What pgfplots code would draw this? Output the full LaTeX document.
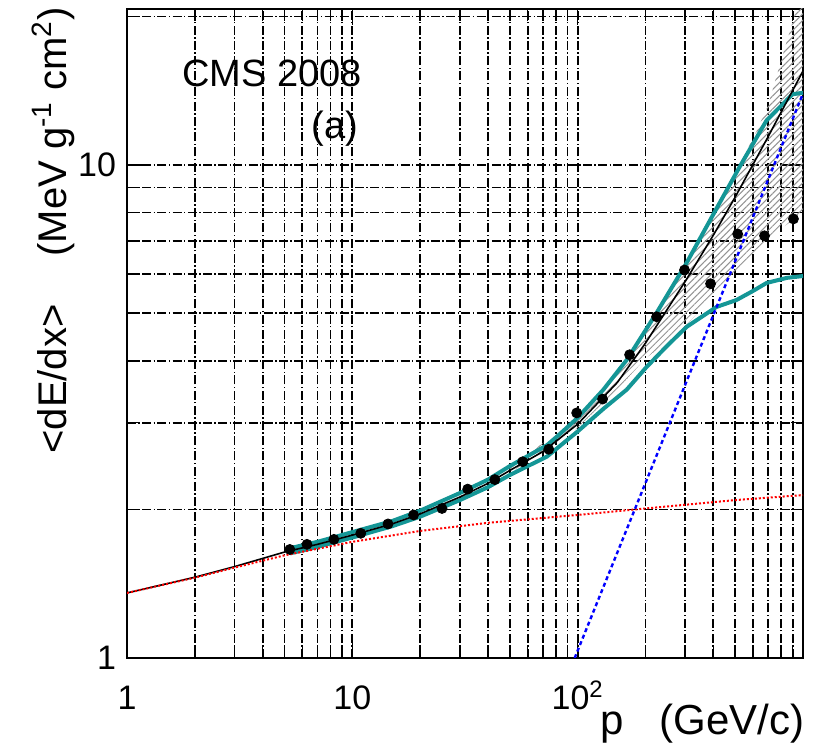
\documentclass[border=0pt]{standalone}
\usepackage{fontspec}
\setmainfont{Liberation Sans}
\usepackage{pgfplots}
\pgfplotsset{compat=1.18}
\usetikzlibrary{patterns.meta}
\definecolor{tealc}{RGB}{20,150,150}
\begin{document}
\begin{tikzpicture}
\begin{axis}[name=ax, xmode=log, ymode=log, scale only axis,
  width=338pt, height=324.5pt,
  xmin=1, xmax=1000, ymin=1, ymax=20.7,
  xtick={1,10,100,1000}, xticklabels={1,10,10\textsuperscript{2},},
  ytick={1,10}, yticklabels={1,10},
  minor xtick={2,3,4,5,6,7,8,9,20,30,40,50,60,70,80,90,200,300,400,500,600,700,800,900},
  minor ytick={2,3,4,5,6,7,8,9,20},
  grid=both,
  major grid style={black, line width=0.85pt, dash pattern=on 4.5pt off 1.2pt on 0.7pt off 1.2pt},
  minor grid style={black, line width=0.85pt, dash pattern=on 4.5pt off 1.2pt on 0.7pt off 1.2pt},
  axis line style={line width=1.2pt},
  tick align=inside, major tick length=8pt, minor tick length=6pt,
  tick style={black, line width=0.8pt},
  xticklabel style={font=\fontsize{17}{20}\selectfont, anchor=base, yshift=-26pt},
  yticklabel style={font=\fontsize{17}{20}\selectfont, xshift=-2pt},
  /pgf/number format/assume math mode=true,
]
% hatched error band
\addplot[draw=none, pattern={Lines[angle=45,distance=2.3pt,line width=0.5pt]}, pattern color=gray!85] coordinates {
 (50,2.45) (100,3.05) (150,3.82) (200,4.65) (300,6.25) (400,7.95) (523,10.0) (622,11.7) (700,13.2) (800,16.3) (900,19.5) (1000,23)
 (1000,8.0) (787,7.38) (561,6.33) (413,5.5) (300,4.7) (250,4.38) (200,4.05) (150,3.5) (100,2.93) (50,2.37)
} -- cycle;
% teal upper
\addplot[tealc, line width=2pt] coordinates {
 (5.3,1.67) (7,1.72) (10,1.80) (15,1.895) (20,1.99) (30,2.16) (40,2.30) (50,2.45) (73,2.70) (83,2.84) (100,3.07) (130,3.5) (165,4.02) (224,5.01) (304,6.32) (413,8.15) (523,9.9) (689,12.3) (898,13.9) (1000,14.0)
};
% teal lower
\addplot[tealc, line width=2pt] coordinates {
 (5.3,1.63) (7,1.68) (10,1.755) (15,1.85) (20,1.935) (30,2.09) (40,2.22) (50,2.35) (73,2.56) (100,2.88) (130,3.2) (165,3.50) (202,3.89) (250,4.3) (304,4.69) (413,5.15) (507,5.32) (600,5.55) (689,5.76) (850,5.9) (1000,5.95)
};
% black total
\addplot[black, line width=0.8pt] coordinates {
 (1,1.355) (2,1.458) (3,1.532) (5,1.64) (7,1.70) (10,1.775) (15,1.87) (20,1.96) (30,2.12) (40,2.26) (50,2.40) (70,2.62) (100,2.98) (150,3.62) (200,4.35) (300,5.8) (400,7.2) (500,8.6) (700,11.4) (1000,15.5)
};
% red ionisation
\addplot[red, line width=1pt, dash pattern=on 1pt off 1pt] coordinates {
 (1,1.355) (2,1.455) (3,1.525) (5,1.615) (10,1.72) (20,1.81) (40,1.88) (100,1.95) (200,2.01) (500,2.09) (1000,2.14)
};
% blue radiative
\addplot[blue, line width=1.2pt, dash pattern=on 2pt off 1.5pt] coordinates {
 (97,1.0) (1000,13.96)
};
% data
\addplot[only marks, mark=*, mark size=2.5pt, black] coordinates {
 (5.28,1.66) (6.29,1.70) (8.28,1.74) (10.9,1.79) (14.4,1.87) (18.7,1.95) (25.0,2.01) (32.5,2.20) (42.9,2.30) (57.0,2.50) (74.4,2.65) (99,3.14) (129,3.35) (170,4.12) (224,4.92) (298,6.12) (389,5.74) (513,7.24) (675,7.18) (907,7.77)
};
\node[anchor=base west, inner sep=0pt, font=\fontsize{19}{22}\selectfont] at (rel axis cs:0.081,0.880) {CMS 2008};
\node[anchor=base east, inner sep=0pt, font=\fontsize{19}{22}\selectfont] at (rel axis cs:0.342,0.800) {(a)};
\end{axis}
\node[rotate=90, anchor=base east, inner sep=0pt, font=\fontsize{20}{24}\selectfont] at ([xshift=-30pt,yshift=1pt]ax.north west) {<dE/dx>\hspace{24pt}(MeV g\textsuperscript{-1} cm\textsuperscript{2})};
\node[anchor=base east, inner sep=0pt, font=\fontsize{21}{24}\selectfont] at ([xshift=1pt,yshift=-38.5pt]ax.south east) {p\hspace{18pt}(GeV/c)};
\pgfresetboundingbox
\path ([xshift=-63.5pt,yshift=-43.5pt]ax.south west) rectangle ([xshift=6.5pt,yshift=4.5pt]ax.north east);
\end{tikzpicture}
\end{document}
